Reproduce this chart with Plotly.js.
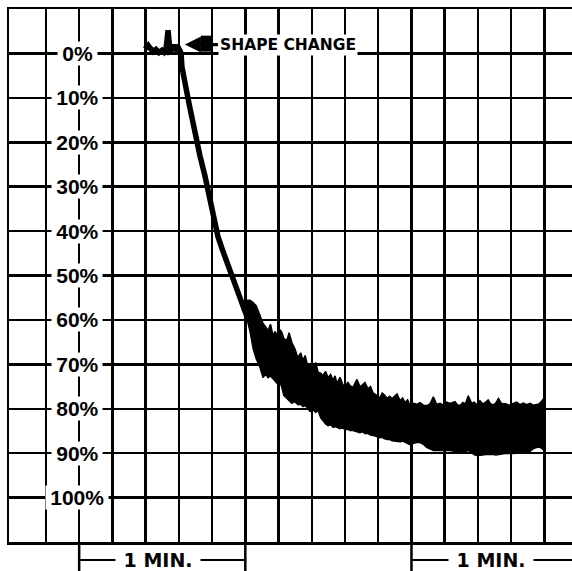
<!DOCTYPE html>
<html><head><meta charset="utf-8">
<script src="https://cdn.plot.ly/plotly-3.0.1.min.js"></script>
<style>html,body{margin:0;padding:0;background:#fff;overflow:hidden}</style>
</head><body><div id="chart" style="width:572px;height:571px"></div>
<script>
// thin trace: baseline and the shape-change drop (time in s, value in %)
const lineTime = [47.8, 48.9, 49.6, 50.7, 51.7, 52.8, 53.9, 54.6, 55.4, 55.7, 56.1, 56.5, 56.8, 57.5, 58.3, 59.0, 59.7, 60.4, 60.8, 61.1, 62.2, 63.3, 64.0, 64.7, 65.8, 67.6, 69.4, 70.5, 72.0, 73.1, 74.1, 75.9, 77.7, 79.6, 82.1, 83.9, 85.0];
const linePct = [-1.0, -1.8, -1.2, -0.4, -0.9, -0.2, -0.7, -0.3, -1.2, -2.8, -5.2, -2.5, -0.6, -0.9, -1.8, -1.0, -1.4, -0.6, 0.0, 3.0, 7.5, 10.1, 12.3, 14.6, 18.5, 23.0, 27.5, 31.0, 34.2, 38.2, 41.2, 44.5, 47.7, 50.7, 55.0, 58.0, 60.0];

// noisy band: upper and lower envelope
const bandTime = [84.6, 85.7, 86.8, 87.9, 89.3, 90.4, 91.3, 92.2, 93.1, 94.0,
  94.7, 95.8, 96.5, 97.2, 97.9, 99.0, 99.8, 100.8, 101.9, 103.0,
  104.0, 104.8, 105.6, 106.3, 107.4, 108.4, 109.4, 110.3, 111.2, 112.0,
  113.0, 113.9, 114.8, 115.7, 116.4, 117.1, 118.2, 119.1, 120.0, 121.0,
  121.8, 122.9, 124.3, 125.4, 126.3, 127.2, 128.3, 129.2, 130.1, 131.4,
  132.6, 133.4, 134.1, 135.2, 136.1, 137.0, 138.8, 139.9, 140.8, 141.7,
  142.6, 143.5, 144.7, 145.9, 147.1, 148.3, 149.5, 150.7, 151.9, 153.1,
  154.3, 155.5, 156.7, 157.9, 159.7, 160.6, 161.5, 162.6, 163.5, 164.5,
  165.7, 166.6, 167.6, 168.7, 169.7, 170.7, 171.7, 172.6, 173.6, 174.5,
  175.4, 176.6, 177.8, 179.2, 180.8, 182.0, 183.2, 184.4, 185.6, 186.8,
  188.0, 189.2, 190.1, 191.0, 191.9];
const bandTop = [55.6, 55.6, 56.1, 56.8, 59.0, 60.8, 61.5, 62.4, 61.0, 63.5,
  62.6, 63.7, 62.2, 62.8, 64.2, 64.6, 62.9, 65.1, 66.5, 68.5,
  67.4, 69.1, 68.0, 69.8, 70.2, 70.9, 69.6, 71.8, 72.0, 72.5,
  71.6, 73.0, 72.3, 73.6, 72.6, 74.3, 72.9, 74.4, 75.2, 74.0,
  74.8, 75.2, 73.4, 75.0, 74.6, 74.1, 75.5, 75.0, 76.4, 76.9,
  77.5, 76.5, 76.8, 77.7, 77.2, 77.7, 76.7, 78.2, 77.6, 78.6,
  78.0, 79.3, 78.8, 79.0, 78.6, 79.2, 79.3, 78.9, 77.3, 79.0,
  78.8, 79.2, 78.5, 78.8, 78.4, 79.1, 79.3, 78.6, 78.9, 77.1,
  78.8, 78.5, 79.1, 78.2, 78.9, 78.6, 78.0, 78.9, 79.1, 78.7,
  77.7, 78.9, 78.8, 79.2, 78.8, 78.5, 79.1, 78.7, 79.1, 78.8,
  79.2, 79.1, 78.9, 78.3, 77.6];
const bandBottom = [59.7, 62.6, 66.4, 68.7, 70.7, 73.0, 72.2, 73.0, 72.6, 73.2,
  73.6, 74.5, 74.0, 75.2, 77.0, 77.7, 78.2, 78.8, 78.4, 79.1,
  79.0, 79.5, 79.3, 79.7, 80.6, 80.2, 80.8, 80.4, 82.0, 82.7,
  83.4, 83.8, 83.6, 84.2, 84.0, 84.2, 84.5, 84.3, 84.7, 84.6,
  84.9, 84.9, 85.1, 85.4, 85.2, 85.6, 85.6, 85.9, 86.0, 86.2,
  86.5, 86.4, 86.7, 86.9, 86.9, 87.2, 87.4, 87.4, 87.3, 87.6,
  87.9, 88.1, 87.8, 87.6, 87.6, 88.0, 88.7, 89.0, 89.4, 89.4,
  89.4, 89.3, 89.4, 89.4, 89.6, 89.5, 89.6, 89.5, 89.6, 89.4,
  89.9, 90.3, 90.5, 90.5, 90.4, 90.3, 90.3, 90.2, 90.3, 90.4,
  90.3, 90.2, 90.1, 90.1, 90.1, 89.9, 89.8, 89.9, 89.9, 89.6,
  89.0, 88.7, 88.6, 88.9, 89.4];

const yTickValues = [0, 10, 20, 30, 40, 50, 60, 70, 80, 90, 100];
const yTickLabels = ['0%', '10%', '20%', '30%', '40%', '50%', '60%', '70%', '80%', '90%', '100%'];
const gridSeconds = [12, 24, 36, 48, 60, 72, 84, 96, 108, 120, 132, 144, 156, 168, 180, 192];
const labelAxisTime = 24;
const minuteStarts = [24, 144];
const minuteLength = 60;
const minuteLabel = '1 MIN.';
const arrowText = 'SHAPE CHANGE';
const arrowTipTime = 62.2;
const arrowTipPct = -2.0;

const black = '#000';
const thin = '\u2009';
const nb = '\u00a0';
const bracketY = -0.0338;

const traces = [
  {x: bandTime, y: bandTop, mode: 'lines', line: {color: black, width: 1.5}, hoverinfo: 'skip'},
  {x: bandTime, y: bandBottom, mode: 'lines', fill: 'tonexty', fillcolor: black, line: {color: black, width: 1.5}, hoverinfo: 'skip'},
  {x: lineTime, y: linePct, mode: 'lines', line: {color: black, width: 5.5}, hoverinfo: 'skip'}
];

const annotations = yTickValues.map((v, i) => ({
  x: labelAxisTime, y: v, xref: 'x', yref: 'y',
  text: thin + yTickLabels[i] + thin, showarrow: false,
  xanchor: 'center', yanchor: 'middle', xshift: -2,
  bgcolor: '#fff', borderpad: 0,
  font: {family: 'Liberation Sans', size: 21, color: black, weight: 'bold'}
}));
annotations.push({
  x: arrowTipTime, y: arrowTipPct, xref: 'x', yref: 'y',
  text: arrowText, showarrow: true, arrowhead: 2, arrowsize: 1, arrowwidth: 3.2,
  arrowcolor: black, ax: 33, ay: 0, standoff: 0,
  xanchor: 'left', yanchor: 'middle', bgcolor: '#fff', borderpad: 1,
  font: {family: 'DejaVu Sans', size: 15.5, color: black, weight: 'bold'}
});
minuteStarts.forEach(s => annotations.push({
  x: s + minuteLength / 2, y: bracketY, xref: 'x', yref: 'paper',
  text: nb + minuteLabel + nb, showarrow: false, xshift: -4,
  xanchor: 'center', yanchor: 'middle', bgcolor: '#fff', borderpad: 1,
  font: {family: 'DejaVu Sans', size: 19, color: black, weight: 'bold'}
}));

const shapes = [];
minuteStarts.forEach(s => {
  [s, s + minuteLength].forEach(e => shapes.push({
    type: 'line', xref: 'x', yref: 'paper', x0: e, x1: e, y0: 0, y1: -0.07,
    line: {color: black, width: 2.5}
  }));
  shapes.push({type: 'line', xref: 'x', yref: 'paper', x0: s, x1: s + minuteLength,
    y0: bracketY, y1: bracketY, line: {color: black, width: 2}});
});
shapes.push({type: 'rect', xref: 'x', yref: 'y', layer: 'above',
  x0: arrowTipTime + 5.8, x1: arrowTipTime + 9.9, y0: arrowTipPct - 2.0, y1: arrowTipPct + 1.6,
  fillcolor: black, line: {width: 0}});

const axisCommon = {
  showticklabels: false, ticks: '', showgrid: true, gridcolor: black, gridwidth: 2.5,
  zeroline: false, showline: true, linecolor: black, linewidth: 2.5, fixedrange: true
};

const layout = {
  width: 572, height: 571,
  margin: {l: 9, r: 0, t: 9, b: 29},
  paper_bgcolor: '#fff', plot_bgcolor: '#fff', showlegend: false,
  xaxis: Object.assign({}, axisCommon, {range: [-1.34, 201.97], tickmode: 'array', tickvals: gridSeconds, mirror: true}),
  yaxis: Object.assign({}, axisCommon, {range: [110, -10], tickmode: 'linear', tick0: 0, dtick: 10, mirror: false}),
  annotations: annotations,
  shapes: shapes
};

Plotly.newPlot('chart', traces, layout, {staticPlot: true, displayModeBar: false});
</script>
</body></html>
